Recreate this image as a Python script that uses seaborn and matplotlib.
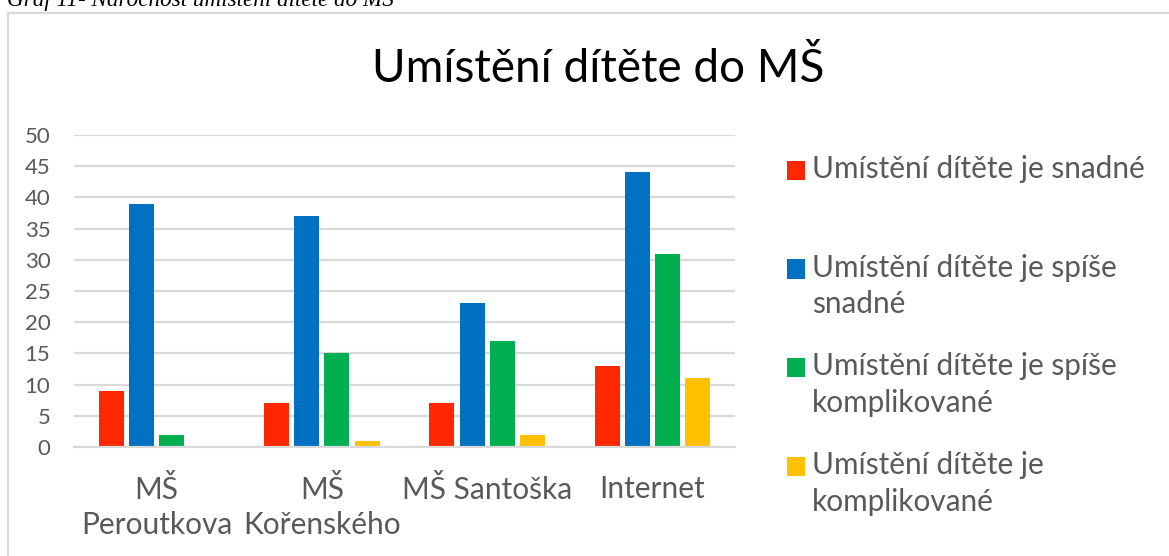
import matplotlib
matplotlib.use("Agg")
import matplotlib.pyplot as plt
import seaborn as sns
import pandas as pd
from matplotlib.patches import Rectangle, Patch
from matplotlib.legend_handler import HandlerPatch

# ---- data ----
categories = ["MŠ\nPeroutkova", "MŠ\nKořenského", "MŠ Santoška", "Internet"]
series_names = [
    "Umístění dítěte je snadné",
    "Umístění dítěte je spíše snadné",
    "Umístění dítěte je spíše komplikované",
    "Umístění dítěte je komplikované",
]
legend_labels = [
    "Umístění dítěte je snadné\n",
    "Umístění dítěte je spíše\nsnadné",
    "Umístění dítěte je spíše\nkomplikované",
    "Umístění dítěte je\nkomplikované",
]
snadne = [9, 7, 7, 13]
spise_snadne = [39, 37, 23, 44]
spise_komplikovane = [2, 15, 17, 31]
komplikovane = [0, 1, 2, 11]
yticks = [0, 5, 10, 15, 20, 25, 30, 35, 40, 45, 50]
title = "Umístění dítěte do MŠ"
caption = "Graf 11- Náročnost umístění dítěte do MŠ"
colors = ["#FF2600", "#0070C0", "#00B050", "#FFC000"]

values = [snadne, spise_snadne, spise_komplikovane, komplikovane]
rows = []
for name, vals in zip(series_names, values):
    for c, v in zip(categories, vals):
        rows.append({"Kategorie": c, "Počet": v, "Řada": name})
df = pd.DataFrame(rows)

sns.set_theme(style="white")
plt.rcParams["font.family"] = ["Lato", "DejaVu Sans"]

W, H = 1169, 556
fig = plt.figure(figsize=(W / 100, H / 100), dpi=100)
ax = fig.add_axes([74 / W, 1 - 447 / H, 661 / W, 312 / H])

sns.barplot(data=df, x="Kategorie", y="Počet", hue="Řada", order=categories,
            hue_order=series_names, palette=colors, width=0.73, gap=0.17,
            ax=ax, legend=False, saturation=1, linewidth=0)

ax.set_ylim(0, 50)
ax.set_xlim(-0.5, len(categories) - 0.5)
ax.set_yticks(yticks)
ax.set_yticklabels([str(t) for t in yticks])
ax.yaxis.grid(True, color="#d9d9d9", linewidth=1.6)
ax.set_axisbelow(True)
for s in ["top", "right", "left"]:
    ax.spines[s].set_visible(False)
ax.spines["bottom"].set_color("#d9d9d9")
ax.spines["bottom"].set_linewidth(1.6)
ax.set_xlabel("")
ax.set_ylabel("")
ax.tick_params(axis="y", length=0, pad=17, labelsize=16, labelcolor="#595959")
ax.tick_params(axis="x", length=0, pad=20, labelsize=21.5, labelcolor="#595959")
for lbl in ax.get_xticklabels():
    lbl.set_linespacing(1.3)


class FirstLineHandler(HandlerPatch):
    """Square legend key aligned with the first line of a two-line label."""
    def __init__(self, shift, **kw):
        super().__init__(**kw)
        self.shift = shift

    def create_artists(self, legend, orig_handle, xdescent, ydescent,
                       width, height, fontsize, trans):
        p = Rectangle((-xdescent, -ydescent + self.shift), width, height,
                      facecolor=orig_handle.get_facecolor(), edgecolor="none",
                      transform=trans)
        return [p]


handles = [Patch(facecolor=c, edgecolor="none") for c in colors]
leg = fig.legend(handles, legend_labels, loc="upper left",
                 bbox_to_anchor=(787 / W, 1 - 155 / H), frameon=False,
                 fontsize=21.4, handlelength=0.61, handleheight=0.61,
                 handletextpad=0.24, labelspacing=1.14, borderpad=0,
                 borderaxespad=0, labelcolor="#595959",
                 handler_map={Patch: FirstLineHandler(shift=13.0)})
for t in leg.get_texts():
    t.set_linespacing(1.38)

# title
fig.text(598 / W, 1 - 68 / H, title, ha="center", va="center",
         fontsize=33, color="#000000")

# caption above chart box
fig.text(7 / W, 1 - 6 / H, caption, ha="left", va="baseline",
         family="Liberation Serif", style="italic", fontsize=16.7, color="#000000")

# chart border
fig.patches.append(Rectangle((8 / W, -0.2), 1.5, 1.2 - 12.5 / H,
                             transform=fig.transFigure, fill=False,
                             edgecolor="#d9d9d9", linewidth=1.6))

fig.savefig("out.png", dpi=100)
